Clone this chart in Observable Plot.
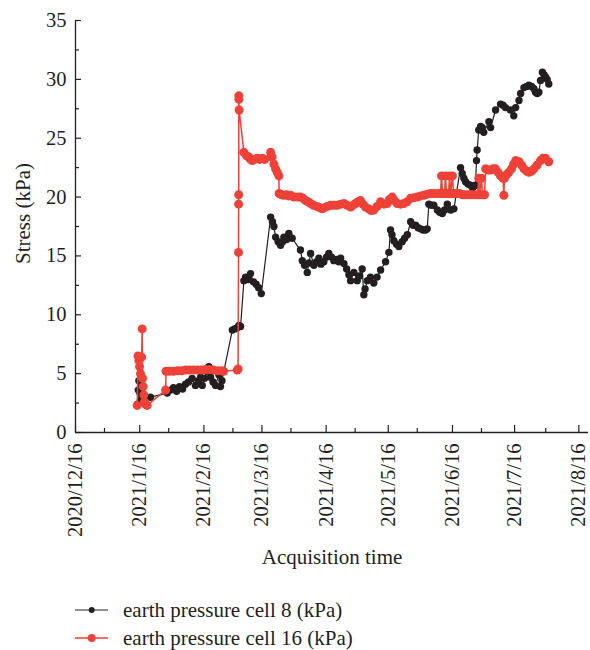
<!DOCTYPE html>
<html><head><meta charset="utf-8">
<script src="https://cdn.jsdelivr.net/npm/d3@7"></script>
<script src="https://cdn.jsdelivr.net/npm/@observablehq/plot@0.6"></script>
<style>
body{margin:0;background:#fff;}
#wrap{position:relative;width:590px;height:650px;font-family:"Liberation Serif",serif;color:#231f20;}
#legend{position:absolute;left:75px;top:596px;font-size:21px;}
.row{display:flex;align-items:center;height:28px;}
.row span{margin-left:14px;}
</style></head><body>
<div id="wrap"><div id="chart"></div><div id="legend"></div></div>
<script>
// ---- data (day = days since 2020-12-16) ----
const startDate = "2020-12-16";
const endDate = "2021-08-20T16:00";
const xTickDates = ["2020-12-16","2021-01-16","2021-02-16","2021-03-16","2021-04-16","2021-05-16","2021-06-16","2021-07-16","2021-08-16"];
const xTickLabels = ["2020/12/16","2021/1/16","2021/2/16","2021/3/16","2021/4/16","2021/5/16","2021/6/16","2021/7/16","2021/8/16"];
const xMinorDates = ["2020-12-30","2021-01-30","2021-03-02","2021-03-30","2021-04-30","2021-05-30","2021-06-30","2021-07-31"];
const yTicks = [0,5,10,15,20,25,30,35];
const yMinor = [2.5,7.5,12.5,17.5,22.5,27.5,32.5];
const seriesNames = ["earth pressure cell 8 (kPa)","earth pressure cell 16 (kPa)"];
const seriesColors = ["#231f20","#ee4137"];

const cell8Day = [29.9,30.3,30.6,31.0,31.4,36.2,44.3,45.9,47.3,48.8,50.2,51.7,53.1,54.6,56.3,57.9,59.4,60.4,61.2,62.3,63.3,64.4,65.2,66.4,67.6,69.2,70.0,70.7,
75.7,76.8,78.1,78.9,79.7,81.3,82.1,83.5,84.5,85.9,87.2,88.4,89.7,
94.2,95.1,95.8,96.6,97.8,99.0,100.0,100.6,101.9,103.0,104.6,
108.6,109.5,110.6,111.9,112.7,113.5,115.1,116.4,117.5,118.5,119.9,121.2,122.3,123.6,124.7,126.0,127.1,
128.0,129.6,130.9,132.0,132.8,134.4,136.0,137.1,138.4,139.2,139.8,140.9,142.4,144.0,145.6,147.3,149.7,151.3,
152.1,152.8,153.7,155.0,156.1,157.7,158.9,160.2,161.8,163.0,164.2,165.4,166.6,167.8,169.0,169.8,
170.6,171.9,173.0,174.7,175.8,177.1,178.2,179.5,181.1,182.7,
185.9,186.7,187.5,188.3,189.5,190.7,191.7,192.3,193.1,193.6,193.9,194.7,195.6,196.4,197.1,199.6,200.4,
202.8,205.2,206.4,207.6,210.0,211.6,212.5,214.1,214.9,216.5,217.8,218.9,220.2,221.3,222.1,222.9,223.7,
224.5,225.4,226.2,226.9,227.7,228.5];
const cell8Value = [2.4,3.6,4.4,3.4,2.8,3.0,3.35,3.6,3.8,3.5,3.9,3.7,4.1,4.3,4.6,4.0,4.4,4.7,4.0,4.6,5.2,5.6,4.7,4.3,4.0,4.9,3.9,4.4,
8.7,8.8,8.9,9.1,9.0,12.9,13.2,13.0,13.5,12.8,12.6,12.3,11.8,
18.3,17.9,17.5,16.6,16.2,15.9,16.2,16.6,16.4,16.9,16.5,
15.5,14.6,14.2,13.6,14.4,15.2,14.2,14.5,14.8,14.3,14.5,14.9,15.2,14.9,14.6,14.7,14.5,
14.8,14.35,13.9,13.4,12.9,13.6,12.9,13.3,13.9,11.7,12.2,12.9,13.2,12.7,13.2,13.8,14.5,15.3,
17.2,16.8,16.3,16.0,15.8,16.2,16.5,16.8,17.9,17.6,17.6,17.4,17.3,17.2,17.2,17.3,
19.4,19.3,19.3,18.9,18.7,18.6,18.9,19.4,18.9,19.0,
22.5,22.0,21.6,21.3,21.1,21.0,20.8,20.9,21.0,23.1,24.0,25.7,26.0,25.9,25.5,26.4,25.9,
27.4,27.9,27.8,27.6,27.4,26.9,27.6,28.2,28.8,29.3,29.4,29.5,29.4,29.2,28.9,28.8,28.9,
29.9,30.6,30.4,30.2,30.0,29.6];

const cell16Day = [29.8,30.2,30.6,30.9,31.4,31.9,32.2,32.4,32.7,33.0,33.3,33.8,34.6,
43.5,43.7,45.4,47.3,49.3,51.2,53.1,55.0,57.0,58.9,60.8,62.8,64.7,66.6,68.6,70.5,71.5,
78.1,78.5,78.7,78.75,78.8,78.85,78.9,79.0,
81.3,82.6,83.7,84.5,85.3,86.4,87.7,88.9,90.2,91.3,94.2,94.9,95.8,96.6,97.4,98.2,98.3,
99.5,100.6,101.9,102.8,103.8,105.4,107.2,108.6,109.8,111.1,112.3,113.5,114.9,116.7,117.8,119.1,120.2,121.5,
123.1,124.7,126.4,128.0,129.6,131.1,132.8,134.0,135.2,136.4,137.6,138.8,140.0,141.5,142.7,144.0,145.6,147.3,
149.0,150.5,151.6,152.9,154.0,155.3,156.9,158.5,160.1,161.8,163.4,165.0,166.6,168.2,169.8,171.4,173.0,174.7,
176.2,176.7,177.2,178.2,178.6,179.1,180.1,180.6,181.1,182.0,182.5,
184.0,185.4,186.9,188.3,189.8,191.2,192.7,194.1,194.7,195.1,196.0,196.5,197.5,
198.0,199.2,200.4,201.6,202.8,204.0,205.2,206.4,206.8,207.1,208.1,209.2,210.5,211.5,212.5,
214.1,215.4,216.5,217.8,218.9,220.2,221.3,222.8,224.5,225.7,226.9,228.5];
const cell16Value = [2.3,6.5,6.1,5.6,5.0,6.4,8.8,4.6,3.9,3.2,2.6,2.4,2.3,
3.6,5.2,5.2,5.2,5.25,5.25,5.3,5.3,5.3,5.3,5.3,5.35,5.35,5.3,5.25,5.25,5.2,
5.3,5.4,15.3,19.4,20.2,28.6,28.3,27.4,
23.8,23.5,23.4,23.2,23.1,23.2,23.3,23.2,23.3,23.2,23.8,23.4,22.8,22.4,22.1,21.8,20.3,
20.2,20.15,20.2,20.1,20.15,20.0,20.0,20.0,19.9,19.7,19.6,19.45,19.3,19.2,19.1,19.0,19.1,19.2,
19.3,19.3,19.3,19.4,19.45,19.3,19.15,19.3,19.45,19.6,19.7,19.4,19.15,19.0,18.85,18.9,19.2,19.6,
19.4,19.45,19.8,20.0,19.7,19.45,19.4,19.45,19.6,19.9,19.95,20.0,20.1,20.15,20.25,20.3,20.3,20.3,
20.3,21.8,20.3,20.3,21.8,20.3,20.3,21.8,20.3,21.8,20.3,
20.3,20.3,20.2,20.2,20.2,20.2,20.2,20.2,21.6,20.2,21.6,20.2,20.2,
22.4,22.3,22.3,22.4,22.4,22.1,21.8,21.6,20.15,21.6,21.9,22.1,22.4,22.8,23.1,
23.0,22.7,22.4,22.2,22.1,22.2,22.4,22.7,23.1,23.3,23.3,23.0];

// ---- build ----
const base = Date.parse(startDate + "T00:00Z");
const toDate = d => new Date(base + d * 864e5);
const parse = s => new Date(s.length > 10 ? s + "Z" : s + "T00:00Z");
const cell8 = cell8Day.map((d, i) => ({date: toDate(d), value: cell8Value[i]}));
const cell16 = cell16Day.map((d, i) => ({date: toDate(d), value: cell16Value[i]}));
const tickLabelOf = new Map(xTickDates.map((s, i) => [+parse(s), xTickLabels[i]]));

const W = 590, H = 590, mt = 20, mb = 158, ml = 75, mr = 2;
const plotW = W - ml - mr, plotH = H - mt - mb;
const ink = "#231f20";

const chart = Plot.plot({
  width: W, height: H, marginTop: mt, marginBottom: mb, marginLeft: ml, marginRight: mr,
  style: {fontFamily: '"Liberation Serif", serif', fontSize: "20px", color: ink, background: "#fff"},
  x: {type: "utc", domain: [parse(startDate), parse(endDate)]},
  y: {domain: [0, 35]},
  marks: [
    Plot.axisY({ticks: yTicks, tickSize: 0, tickPadding: 9, label: null, fill: ink, fontSize: 20.5}),
    Plot.axisX({ticks: xTickDates.map(parse), tickSize: 0, tickPadding: 11, tickRotate: -90,
      tickFormat: d => tickLabelOf.get(+d), label: null, fill: ink, fontSize: 20.5}),
    Plot.tickY(yTicks, {y: d => d, insetRight: plotW - 6, stroke: ink, strokeWidth: 1.2}),
    Plot.tickY(yMinor, {y: d => d, insetRight: plotW - 4, stroke: ink, strokeWidth: 1.2}),
    Plot.tickX(xTickDates, {x: d => parse(d), insetTop: plotH - 7, stroke: ink, strokeWidth: 1.2}),
    Plot.tickX(xMinorDates, {x: d => parse(d), insetTop: plotH - 4, stroke: ink, strokeWidth: 1.2}),
    Plot.ruleX([parse(startDate)], {stroke: ink, strokeWidth: 1.3}),
    Plot.ruleY([0], {stroke: ink, strokeWidth: 1.3}),
    Plot.line(cell8, {x: "date", y: "value", stroke: seriesColors[0], strokeWidth: 1.2}),
    Plot.dot(cell8, {x: "date", y: "value", r: 3.7, fill: seriesColors[0], stroke: "none"}),
    Plot.line(cell16, {x: "date", y: "value", stroke: seriesColors[1], strokeWidth: 1.5}),
    Plot.dot(cell16, {x: "date", y: "value", r: 4.5, fill: seriesColors[1], stroke: "none"}),
    Plot.text(["Acquisition time"], {text: d => d, frameAnchor: "bottom", lineAnchor: "middle", dy: 125, fontSize: 21, fill: ink}),
    Plot.text(["Stress (kPa)"], {text: d => d, frameAnchor: "left", textAnchor: "middle", lineAnchor: "middle", rotate: -90, dx: -52, dy: -13, fontSize: 21, fill: ink})
  ]
});
document.getElementById("chart").appendChild(chart);

// legend
const legend = document.getElementById("legend");
seriesNames.forEach((name, i) => {
  const row = document.createElement("div");
  row.className = "row";
  const r = i === 0 ? 3 : 4;
  const sw = i === 0 ? 1.2 : 1.5;
  row.innerHTML = `<svg width="34" height="28"><line x1="0" x2="33" y1="14" y2="14" stroke="${seriesColors[i]}" stroke-width="${sw}"/><circle cx="16.7" cy="14" r="${r}" fill="${seriesColors[i]}"/></svg><span>${name}</span>`;
  legend.appendChild(row);
});
</script>
</body></html>
